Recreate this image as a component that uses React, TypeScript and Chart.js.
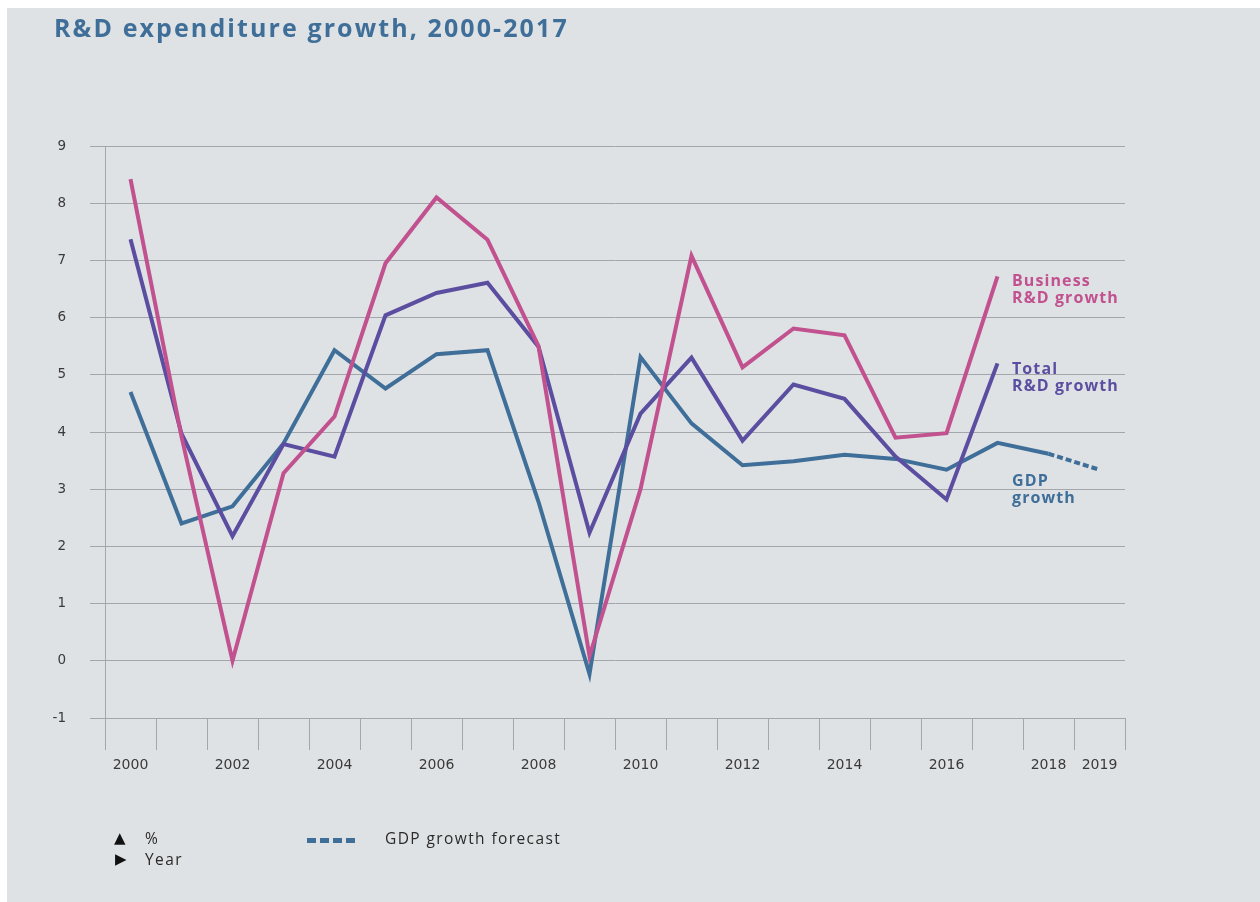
import React, { useEffect, useRef } from "react";
import { Chart, registerables } from "chart.js";

Chart.register(...registerables);

const years = ["2000","2001","2002","2003","2004","2005","2006","2007","2008","2009","2010","2011","2012","2013","2014","2015","2016","2017","2018","2019"];
const shownYearLabels = ["2000","2002","2004","2006","2008","2010","2012","2014","2016","2018","2019"];

const businessRD = [8.42, 3.92, 0.0, 3.28, 4.27, 6.95, 8.1, 7.36, 5.5, 0.08, 3.0, 7.08, 5.13, 5.81, 5.69, 3.9, 3.98, 6.72, null, null];
const totalRD = [7.37, 3.97, 2.18, 3.79, 3.57, 6.04, 6.43, 6.61, 5.49, 2.24, 4.32, 5.3, 3.85, 4.83, 4.58, 3.57, 2.82, 5.2, null, null];
const gdpGrowth = [4.7, 2.4, 2.7, 3.8, 5.43, 4.76, 5.36, 5.43, 2.78, -0.23, 5.31, 4.15, 3.42, 3.49, 3.6, 3.53, 3.34, 3.81, 3.62, null];
const gdpForecast = [null, null, null, null, null, null, null, null, null, null, null, null, null, null, null, null, null, null, 3.62, 3.34];

const yMin = -1;
const yMax = 9;

const PINK = "#c1518f";
const PURPLE = "#5b4ea1";
const BLUE = "#3f6f99";
const GRID = "#a3a7ab";
const TICK_FONT = "'DejaVu Sans', sans-serif";

export default function App() {
  const canvasRef = useRef<HTMLCanvasElement | null>(null);

  useEffect(() => {
    document.body.style.overflow = "hidden";
    const canvas = canvasRef.current;
    if (!canvas) return;
    const chart = new Chart(canvas, {
      type: "line",
      data: {
        labels: years,
        datasets: [
          { label: "Business R&D growth", data: businessRD, borderColor: PINK, borderWidth: 4, pointRadius: 0, fill: false, tension: 0 },
          { label: "Total R&D growth", data: totalRD, borderColor: PURPLE, borderWidth: 4, pointRadius: 0, fill: false, tension: 0 },
          { label: "GDP growth", data: gdpGrowth, borderColor: BLUE, borderWidth: 4, pointRadius: 0, fill: false, tension: 0 },
          { label: "GDP growth forecast", data: gdpForecast, borderColor: BLUE, borderWidth: 4, borderDash: [6, 3], pointRadius: 0, fill: false, tension: 0 },
        ],
      },
      options: {
        animation: false,
        responsive: false,
        maintainAspectRatio: false,
        layout: { padding: { top: 138, right: 135, bottom: 0, left: 0 } },
        plugins: { legend: { display: false }, tooltip: { enabled: false }, title: { display: false } },
        scales: {
          x: {
            type: "category",
            offset: true,
            afterFit: (scale: any) => { scale.height = 184; },
            grid: { offset: true, drawOnChartArea: false, drawTicks: true, tickLength: 32, color: GRID, lineWidth: 1 },
            border: { display: false },
            ticks: {
              autoSkip: false,
              maxRotation: 0,
              padding: 7,
              color: "#3a3a3a",
              font: { family: TICK_FONT, size: 14 },
              callback: function (this: any, _v: any, i: number) {
                const y = years[i];
                return shownYearLabels.includes(y) ? y : "";
              },
            },
          },
          y: {
            min: yMin,
            max: yMax,
            afterFit: (scale: any) => { scale.width = 98; },
            grid: { color: GRID, lineWidth: 1, tickLength: 15, drawTicks: true },
            border: { display: true, color: GRID, width: 1 },
            ticks: {
              stepSize: 1,
              padding: 24,
              color: "#3a3a3a",
              font: { family: TICK_FONT, size: 13.5 },
            },
          },
        },
      },
    });
    return () => chart.destroy();
  }, []);

  const labelStyle: React.CSSProperties = {
    position: "absolute",
    left: 1005,
    fontFamily: "'Open Sans', sans-serif",
    fontWeight: 700,
    fontSize: 16,
    letterSpacing: "1.1px",
    lineHeight: "17px",
    whiteSpace: "nowrap",
  };
  const legendText: React.CSSProperties = {
    position: "absolute",
    fontFamily: "'Open Sans', sans-serif",
    fontSize: 15.5,
    letterSpacing: "1.4px",
    lineHeight: "20px",
    color: "#2a2a2a",
    whiteSpace: "nowrap",
  };
  const glyph: React.CSSProperties = {
    position: "absolute",
    fontFamily: "'DejaVu Sans', sans-serif",
    fontSize: 15,
    lineHeight: "20px",
    color: "#111",
  };

  return (
    <div style={{ position: "fixed", left: 7, top: 8, right: 0, bottom: 0, background: "#dfe2e4", overflow: "hidden" }}>
      <canvas ref={canvasRef} width={1253} height={894} style={{ position: "absolute", left: 0, top: 0, width: 1253, height: 894 }} />
      <div style={{ position: "absolute", left: 47, top: 4, fontFamily: "'Open Sans', sans-serif", fontWeight: 700, fontSize: 25, letterSpacing: "2.1px", lineHeight: "30px", color: BLUE, whiteSpace: "nowrap" }}>
        R&amp;D expenditure growth, 2000-2017
      </div>
      <div style={{ ...labelStyle, top: 264, color: PINK }}>Business<br />R&amp;D growth</div>
      <div style={{ ...labelStyle, top: 352, color: PURPLE }}>Total<br />R&amp;D growth</div>
      <div style={{ ...labelStyle, top: 464, color: BLUE }}>GDP<br />growth</div>

      <div style={{ ...glyph, left: 107, top: 820 }}>▲</div>
      <div style={{ ...legendText, left: 138, top: 820 }}>%</div>
      <div style={{ ...glyph, left: 108, top: 841 }}>▶</div>
      <div style={{ ...legendText, left: 138, top: 841 }}>Year</div>
      <div style={{ position: "absolute", left: 300, top: 830, width: 48, height: 5, background: `repeating-linear-gradient(to right, ${BLUE} 0 9px, transparent 9px 13px)` }} />
      <div style={{ ...legendText, left: 378, top: 820 }}>GDP growth forecast</div>
    </div>
  );
}
